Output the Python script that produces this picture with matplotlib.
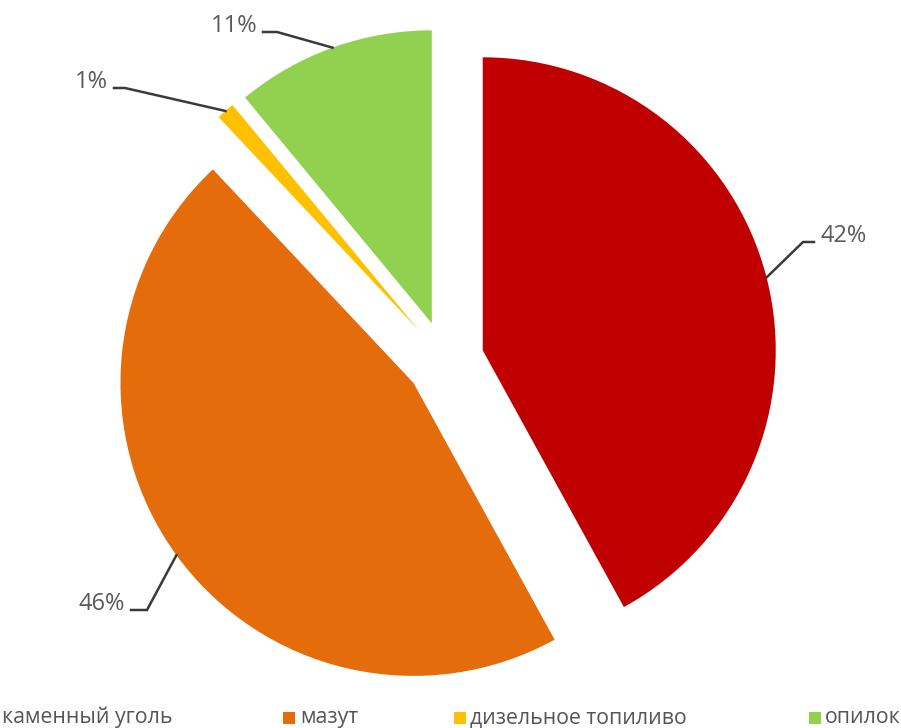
import numpy as np
import matplotlib.pyplot as plt
from matplotlib.patches import Rectangle

plt.rcParams['font.family'] = ['Open Sans', 'DejaVu Sans']

fuels = ['каменный уголь', 'мазут', 'дизельное топиливо', 'опилок']
shares = [42, 46, 1, 11]
colors = ['#C00000', '#E46C0A', '#FFC000', '#92D050']

W, H = 901, 728
R = 293.0            # pie radius in pixels
cx, cy = 445, 368    # pie centre (pixels from bottom-left)

fig = plt.figure(figsize=(W / 100, H / 100), dpi=100)
ax = fig.add_axes([0, 0, 1, 1])

explode = [0.133] * len(shares)
wedges, _ = ax.pie(shares, colors=colors, startangle=90, counterclock=False,
                   explode=explode, radius=1.0,
                   wedgeprops=dict(linewidth=0))
ax.set_xlim(-cx / R, (W - cx) / R)
ax.set_ylim(-cy / R, (H - cy) / R)
ax.set_aspect('equal')
ax.axis('off')


def px2data(x, y_top):
    return (x - cx) / R, (H - y_top - cy) / R


# label placement: (text edge x px, baseline y px from top, ha, elbow x px)
label_pos = [(820, 242, 'left', 803),
             (125, 610, 'right', 147),
             (108, 88, 'right', 125),
             (257, 32, 'right', 277)]
gap = 6 / R
for w, s, (tx, ty, ha, elx) in zip(wedges, shares, label_pos):
    th = np.deg2rad((w.theta1 + w.theta2) / 2)
    ax_, ay_ = w.center[0] + w.r * np.cos(th), w.center[1] + w.r * np.sin(th)
    txd, tyd = px2data(tx, ty)
    ex = (elx - cx) / R
    hx = txd - gap if ha == 'left' else txd + gap
    ax.plot([ax_, ex, hx], [ay_, tyd, tyd], color='#3a3a3a', lw=1.8,
            solid_joinstyle='miter')
    ax.text(txd, tyd, f'{s}%', ha=ha, va='baseline', fontsize=17,
            color='#595959')

# legend along the bottom (first marker falls off the left edge)
mark_x = [-16, 283, 454, 809]
text_x = [2, 300, 470, 825]
for mx, tx, lab, col in zip(mark_x, text_x, fuels, colors):
    fig.add_artist(Rectangle((mx / W, (H - 724) / H), 12 / W, 12 / H,
                             transform=fig.transFigure, color=col, lw=0))
    fig.text(tx / W, (H - 723) / H, lab, ha='left', va='baseline',
             fontsize=15.3, color='#555555')

fig.savefig('out.png', dpi=100)
